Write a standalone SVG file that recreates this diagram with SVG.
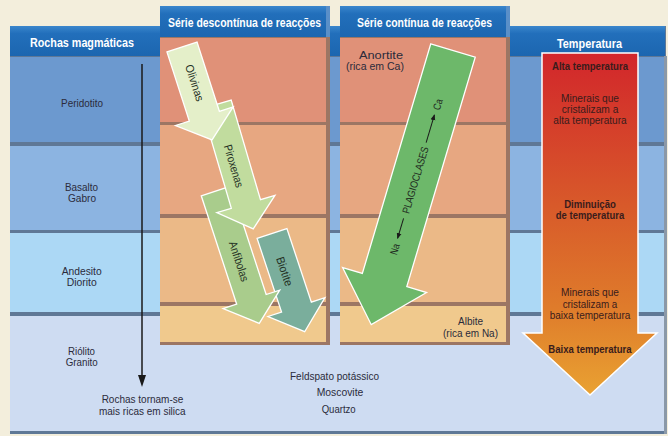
<svg xmlns="http://www.w3.org/2000/svg" width="668" height="436" viewBox="0 0 668 436">
<defs>
<style>
text{font-family:"Liberation Sans",Arial,sans-serif;}
.h{font-size:13px;font-weight:bold;fill:#ffffff;text-anchor:middle;}
.t{font-size:11px;fill:#2b2b3b;text-anchor:middle;}
.tb{font-size:11px;font-weight:bold;fill:#3a1c1c;text-anchor:middle;}
.tt{font-size:11px;fill:#3a1c1c;text-anchor:middle;}
.al{font-size:11.5px;fill:#243024;text-anchor:middle;dominant-baseline:central;}
.pl{font-size:10.5px;fill:#1e2a1e;text-anchor:middle;dominant-baseline:central;}
.arr{stroke:#ffffff;stroke-width:1.3;stroke-linejoin:miter;}
.hdr{fill:url(#hg);}
.gapb{fill:#5f7896;}
.gapo{fill:#9c7664;}
</style>
<linearGradient id="hg" x1="0" y1="0" x2="0" y2="1">
<stop offset="0" stop-color="#3a86cc"/>
<stop offset="0.25" stop-color="#226fbb"/>
<stop offset="1" stop-color="#1c66b0"/>
</linearGradient>
<linearGradient id="tg" x1="0" y1="53" x2="0" y2="395" gradientUnits="userSpaceOnUse">
<stop offset="0" stop-color="#d2262b"/>
<stop offset="0.45" stop-color="#d85a2a"/>
<stop offset="0.75" stop-color="#df7c2b"/>
<stop offset="1" stop-color="#e9a232"/>
</linearGradient>
<marker id="ah" viewBox="0 0 10 10" refX="9" refY="5" markerWidth="6" markerHeight="6" orient="auto" markerUnits="userSpaceOnUse">
<path d="M0,1 L10,5 L0,9 Z" fill="#1a1a1a"/>
</marker>
</defs>

<rect x="0" y="0" width="668" height="436" fill="#f3eedc"/>

<g id="background-rows">
<rect x="10" y="26" width="656" height="408" class="gapb"/>
<rect x="10" y="26" width="655" height="30" class="hdr"/>
<rect x="10" y="57" width="654" height="85" fill="#6c99cf"/>
<rect x="10" y="146" width="654" height="84" fill="#8cb4e1"/>
<rect x="10" y="233" width="654" height="79" fill="#acd8f5"/>
<rect x="10" y="316" width="654" height="115" fill="#cedcf2"/>
<rect x="664" y="56" width="3" height="378" fill="#8a98a8"/>
</g>

<g id="box-descontinua">
<rect x="160" y="6" width="170" height="339" class="gapo"/>
<rect x="160" y="6" width="166" height="31" class="hdr"/>
<rect x="326" y="6" width="4" height="31" fill="#5a8fc8"/>
<rect x="160" y="38" width="166" height="84" fill="#e09178"/>
<rect x="160" y="125" width="166" height="89" fill="#e7a781"/>
<rect x="160" y="218" width="166" height="84" fill="#ebb987"/>
<rect x="160" y="306" width="166" height="36" fill="#f0c98d"/>
</g>

<g id="box-continua">
<rect x="340" y="6" width="170" height="339" class="gapo"/>
<rect x="340" y="6" width="166" height="31" class="hdr"/>
<rect x="506" y="6" width="4" height="31" fill="#5a8fc8"/>
<rect x="340" y="38" width="166" height="84" fill="#e09178"/>
<rect x="340" y="125" width="166" height="89" fill="#e7a781"/>
<rect x="340" y="218" width="166" height="84" fill="#ebb987"/>
<rect x="340" y="306" width="166" height="36" fill="#f0c98d"/>
</g>

<g id="headers">
<text class="h" x="82" y="47" textLength="104" lengthAdjust="spacingAndGlyphs">Rochas magmáticas</text>
<text class="h" x="244.5" y="27" textLength="153" lengthAdjust="spacingAndGlyphs">Série descontínua de reacções</text>
<text class="h" x="424.5" y="27" textLength="135" lengthAdjust="spacingAndGlyphs">Série contínua de reacções</text>
<text class="h" x="589.5" y="47.5" textLength="65" lengthAdjust="spacingAndGlyphs">Temperatura</text>
</g>

<g id="rock-labels">
<text class="t" x="82" y="107" textLength="42" lengthAdjust="spacingAndGlyphs">Peridotito</text>
<text class="t" x="81.5" y="191" textLength="33" lengthAdjust="spacingAndGlyphs">Basalto</text>
<text class="t" x="82" y="202" textLength="28" lengthAdjust="spacingAndGlyphs">Gabro</text>
<text class="t" x="81.7" y="275" textLength="40" lengthAdjust="spacingAndGlyphs">Andesito</text>
<text class="t" x="81.7" y="286" textLength="30" lengthAdjust="spacingAndGlyphs">Diorito</text>
<text class="t" x="81.5" y="354.5" textLength="27" lengthAdjust="spacingAndGlyphs">Riólito</text>
<text class="t" x="81.7" y="366" textLength="32" lengthAdjust="spacingAndGlyphs">Granito</text>
<text class="t" x="142.5" y="403" textLength="81.7" lengthAdjust="spacingAndGlyphs">Rochas tornam-se</text>
<text class="t" x="142.3" y="414.5" textLength="86.7" lengthAdjust="spacingAndGlyphs">mais ricas em silica</text>
</g>

<g id="connectors">
<line x1="142" y1="64" x2="142" y2="378" stroke="#1a1a1a" stroke-width="1.5"/>
<polygon points="138,375 146,375 142,387" fill="#1a1a1a"/>
</g>

<g id="biotite">
<g transform="translate(272,233.5) rotate(-18.4)">
<polygon class="arr" fill="#7aae9c" points="-15.7,0 15.7,0 15.7,77.5 30,77.5 0,103.5 -30,77.5 -15.7,77.5"/>
<text class="al" transform="translate(0,40) rotate(90)" textLength="30" lengthAdjust="spacingAndGlyphs">Biotite</text>
</g>
</g>

<g id="anfibolas">
<g transform="translate(216,191) rotate(-18.1)">
<polygon class="arr" fill="#a9cc8c" points="-15.5,0 15.5,0 15.5,114 29.8,114 0,139.3 -29.8,114 -15.5,114"/>
<text class="al" transform="translate(0,74) rotate(90)" textLength="41.5" lengthAdjust="spacingAndGlyphs">Anfibolas</text>
</g>
</g>

<g id="piroxenas">
<g transform="translate(216.6,104.4) rotate(-16.4)">
<polygon class="arr" fill="#c1dc9e" points="-15.2,0 15.2,0 15.2,103.8 30.3,103.8 0,129.8 -30.3,103.8 -15.2,103.8"/>
<text class="al" transform="translate(-1,64) rotate(90)" textLength="44" lengthAdjust="spacingAndGlyphs">Piroxenas</text>
</g>
</g>

<g id="olivinas">
<g transform="translate(182,47) rotate(-17.9)">
<polygon class="arr" fill="#e4efc9" points="-15.8,0 15.8,0 15.8,72.7 30.3,72.7 0,97.7 -30.3,72.7 -15.8,72.7"/>
<text class="al" transform="translate(1,38) rotate(90)" textLength="38" lengthAdjust="spacingAndGlyphs">Olivinas</text>
</g>
</g>

<g id="plagioclases">
<g transform="translate(453,50.5) rotate(16.6)">
<polygon class="arr" fill="#6db86a" points="-23.2,0 23.2,0 23.2,239.5 43.8,239.5 0,286.1 -43.8,239.5 -23.2,239.5"/>
</g>
<g transform="translate(415,180) rotate(-73.4)">
<text class="pl" x="0" y="0" textLength="69" lengthAdjust="spacingAndGlyphs">PLAGIOCLASES</text>
<line x1="39" y1="0" x2="68" y2="0" stroke="#1a1a1a" stroke-width="1" marker-end="url(#ah)"/>
<line x1="-40" y1="0" x2="-61" y2="0" stroke="#1a1a1a" stroke-width="1" marker-end="url(#ah)"/>
<text class="pl" x="79" y="0" textLength="11" lengthAdjust="spacingAndGlyphs">Ca</text>
<text class="pl" x="-72" y="0" textLength="11" lengthAdjust="spacingAndGlyphs">Na</text>
</g>
</g>

<g id="series-labels">
<text class="t" x="381" y="58.5" textLength="44" lengthAdjust="spacingAndGlyphs">Anortite</text>
<text class="t" x="375" y="70" textLength="58" lengthAdjust="spacingAndGlyphs">(rica em Ca)</text>
<text class="t" x="470.5" y="325" textLength="25" lengthAdjust="spacingAndGlyphs">Albite</text>
<text class="t" x="470.5" y="336.5" textLength="55" lengthAdjust="spacingAndGlyphs">(rica em Na)</text>
<text class="t" x="334.5" y="379.5" textLength="89" lengthAdjust="spacingAndGlyphs">Feldspato potássico</text>
<text class="t" x="340" y="396" textLength="46.7" lengthAdjust="spacingAndGlyphs">Moscovite</text>
<text class="t" x="338.7" y="413" textLength="34" lengthAdjust="spacingAndGlyphs">Quartzo</text>
</g>

<g id="temperatura">
<polygon points="542,53 638,53 638,333 657,333 590,395 523,333 542,333" fill="url(#tg)" stroke="#ffffff" stroke-width="1.5"/>
<text class="tb" x="590" y="70" textLength="76" lengthAdjust="spacingAndGlyphs">Alta temperatura</text>
<text class="tt" x="590" y="102" textLength="58" lengthAdjust="spacingAndGlyphs">Minerais que</text>
<text class="tt" x="590" y="113" textLength="56.7" lengthAdjust="spacingAndGlyphs">cristalizam a</text>
<text class="tt" x="590" y="124" textLength="73.3" lengthAdjust="spacingAndGlyphs">alta temperatura</text>
<text class="tb" x="590" y="207.5" textLength="51.7" lengthAdjust="spacingAndGlyphs">Diminuição</text>
<text class="tb" x="590" y="218.5" textLength="68.3" lengthAdjust="spacingAndGlyphs">de temperatura</text>
<text class="tt" x="590" y="296" textLength="58" lengthAdjust="spacingAndGlyphs">Minerais que</text>
<text class="tt" x="590" y="307.5" textLength="54.7" lengthAdjust="spacingAndGlyphs">cristalizam a</text>
<text class="tt" x="590" y="318.5" textLength="80.7" lengthAdjust="spacingAndGlyphs">baixa temperatura</text>
<text class="tb" x="590" y="353" textLength="83.3" lengthAdjust="spacingAndGlyphs">Baixa temperatura</text>
</g>
</svg>
